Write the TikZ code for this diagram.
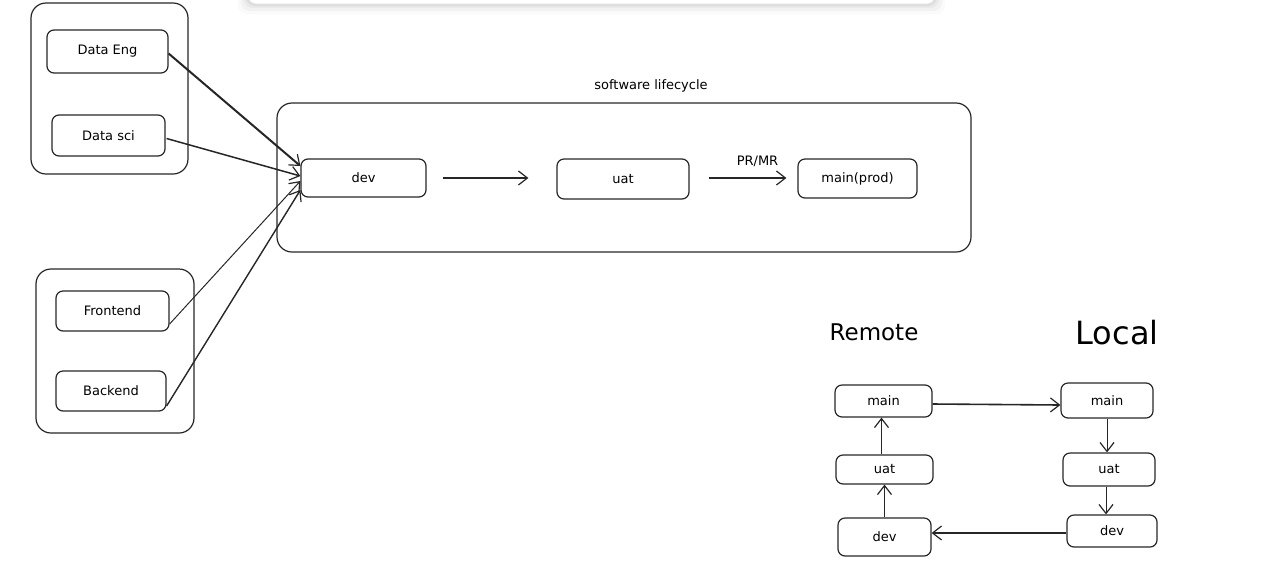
\documentclass[tikz,border=0pt]{standalone}
\usepackage{fontspec}
\setmainfont{DejaVu Sans}
\usetikzlibrary{arrows.meta,calc}
\begin{document}
\begin{tikzpicture}[x=1pt,y=-1pt,
  ink/.style={draw=black!85, line width=1.2pt},
  lbl/.style={font=\fontsize{13}{15}\selectfont},
  box/.style={ink, rounded corners=7pt, inner sep=0pt, lbl},
  group/.style={ink, rounded corners=15pt, inner sep=0pt},
  conn/.style={draw=black!85, line width=1.4pt, -{Straight Barb[length=9pt,width=14pt,line width=1.2pt]}},
]
\useasboundingbox (0,0) rectangle (1287,566);

% floating panel edge at the top, with a soft shadow
\foreach \o/\a in {10/0.02,7/0.03,4/0.04,2/0.05}
  \fill[black, opacity=\a, rounded corners=9pt] (248-\o,-20) rectangle (935+\o,4+\o);
\fill[white, rounded corners=8pt] (248,-20) rectangle (935,4);
\draw[black!12, line width=0.6pt, rounded corners=8pt] (248,-20) -- (248,4) -- (935,4) -- (935,-20);

% team groups
\node[group, minimum width=157pt, minimum height=171pt] (g1) at (109.5,88.5) {};
\node[group, minimum width=158pt, minimum height=164pt] (g2) at (115,351) {};
\node[box, minimum width=121pt, minimum height=43pt] (deng) at (107.5,51.5) {Data Eng};
\node[box, minimum width=113pt, minimum height=41pt] (dsci) at (108.5,135.5) {Data sci};
\node[box, minimum width=113pt, minimum height=40pt] (fe) at (112.5,311) {Frontend};
\node[box, minimum width=110pt, minimum height=40pt] (be) at (111,391) {Backend};

% software lifecycle
\node[group, minimum width=694pt, minimum height=149pt] (life) at (624,177.5) {};
\node[lbl] (lifelbl) at (651,86) {software lifecycle};
\node[box, minimum width=125pt, minimum height=38pt] (dev) at (363.5,178) {dev};
\node[box, minimum width=132pt, minimum height=40pt] (uat) at (623,179) {uat};
\node[box, minimum width=119pt, minimum height=39pt] (prod) at (857.5,178.5) {main(prod)};

\draw[conn, shorten <=16pt, shorten >=28pt] (dev.east) -- (dev.east -| uat.west);
\draw[conn, line width=1.8pt, shorten <=19pt, shorten >=11pt] (uat.east |- dev.east) -- (dev.east -| prod.west)
  node[pos=0.63, above=7pt, lbl] (prmr) {PR/MR};

% teams into dev
\draw[conn, line width=2pt] ([yshift=-2pt]deng.east) -- ([yshift=12pt]dev.west);
\draw[conn, line width=1.5pt] ([xshift=1pt,yshift=-3pt]dsci.east) -- ([yshift=2pt]dev.west);
\draw[conn, line width=1pt] ([yshift=-13pt]fe.east) -- ([yshift=-3pt]dev.west);
\draw[conn, line width=1.4pt] ([yshift=-15pt]be.east) -- ([yshift=-12pt]dev.west);

% remote / local branches
\node[font=\fontsize{23}{27}\selectfont] (remote) at (874,332) {Remote};
\node[font=\fontsize{32}{38}\selectfont] (local) at (1117,333) {Local};

\node[box, minimum width=97pt, minimum height=32pt] (rmain) at (883.5,401) {main};
\node[box, minimum width=97pt, minimum height=29pt] (ruat) at (884.5,469.5) {uat};
\node[box, minimum width=93pt, minimum height=38pt] (rdev) at (884.5,537) {dev};
\node[box, minimum width=92pt, minimum height=35pt] (lmain) at (1107,400.5) {main};
\node[box, minimum width=92pt, minimum height=33pt] (luat) at (1109,469.5) {uat};
\node[box, minimum width=90pt, minimum height=32pt] (ldev) at (1112,531) {dev};

\draw[conn, line width=1.6pt] ([yshift=-3pt]rmain.east) -- ([yshift=-4pt]rmain.east -| lmain.west);
\draw[conn, line width=1pt] (lmain.south) -- (lmain.south |- luat.north);
\draw[conn, line width=1pt] ([xshift=-3pt]luat.south) -- ([xshift=-3pt]luat.south |- ldev.north);
\draw[conn, line width=1.6pt] ([yshift=-2pt]ldev.west) -- ([yshift=-2pt]ldev.west -| rdev.east);
\draw[conn, line width=1.6pt] (rdev.north) -- (rdev.north |- ruat.south);
\draw[conn, line width=1.4pt] ([xshift=-3pt]ruat.north) -- ([xshift=-3pt]ruat.north |- rmain.south);
\end{tikzpicture}
\end{document}
